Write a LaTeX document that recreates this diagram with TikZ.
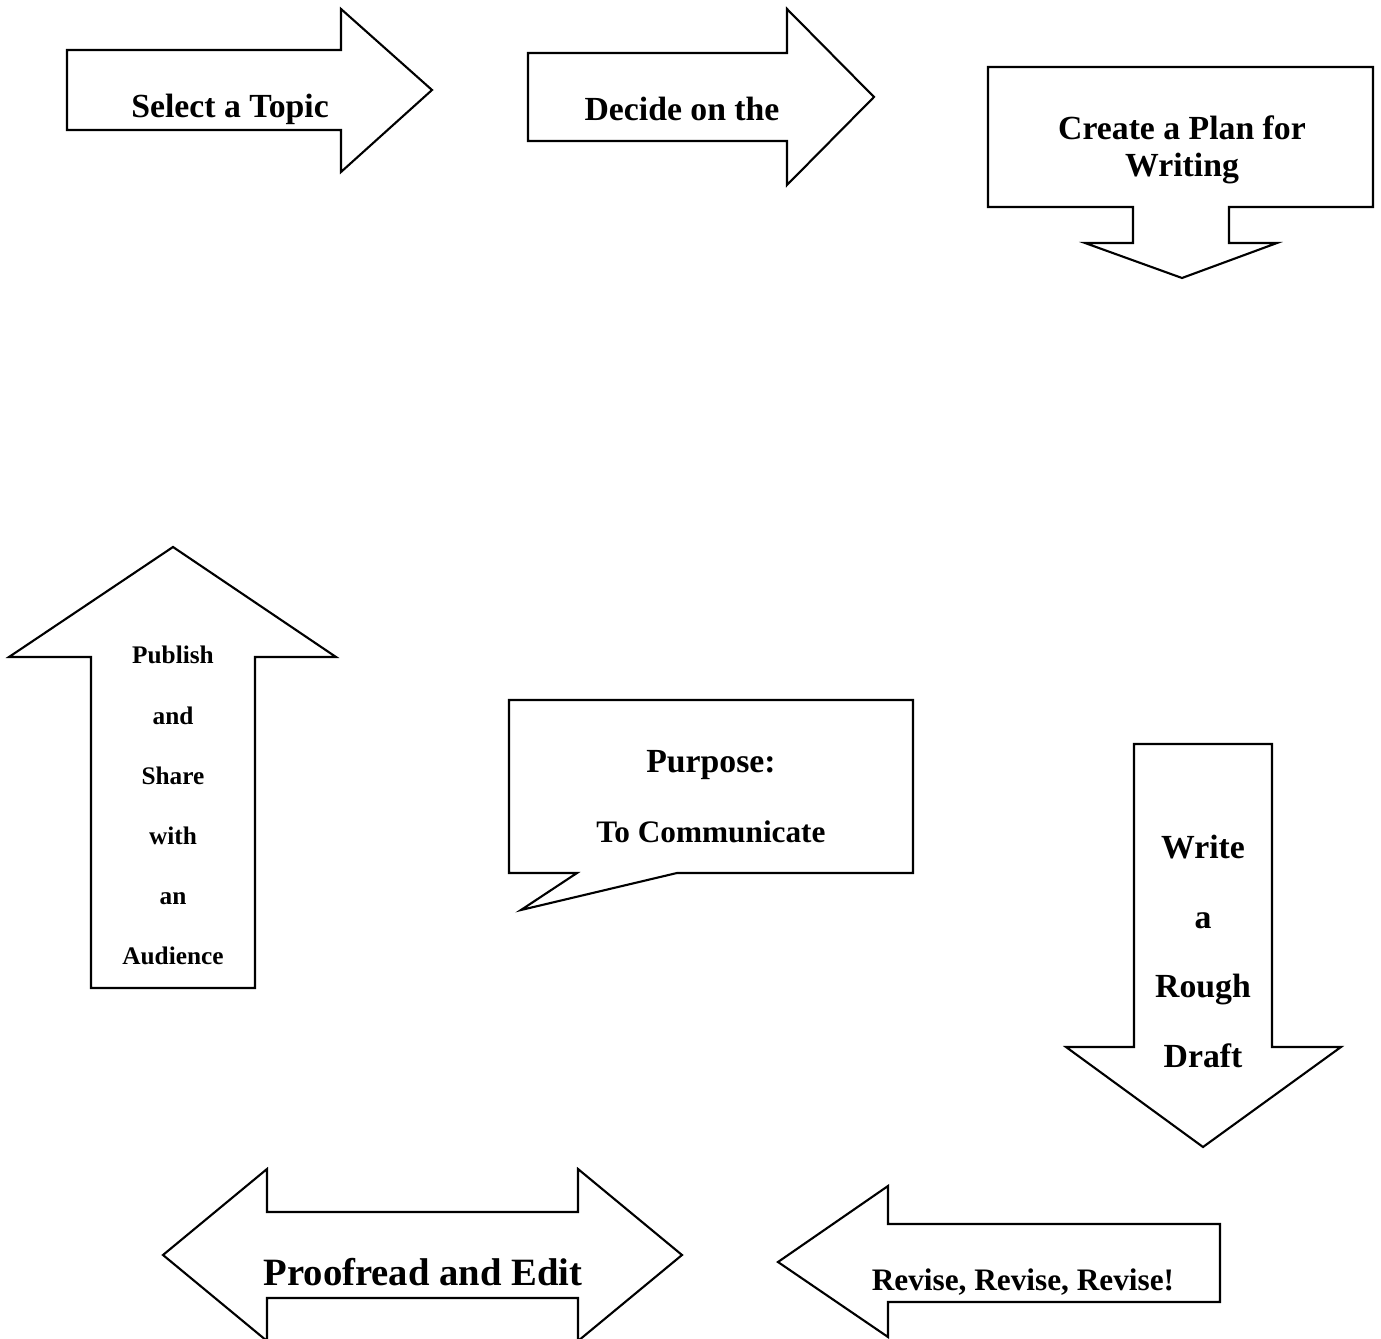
\documentclass[tikz,border=0pt]{standalone}
\usepackage{fontspec}
\setmainfont{Liberation Serif}
\usepackage{tikz}
\usetikzlibrary{calc}

\begin{document}
\begin{tikzpicture}[
	x=0.1mm, y=-0.1mm,
	outline/.style={draw, line width=0.6pt, line join=miter},
	bigText/.style={anchor=base, font=\fontsize{9.6}{11}\selectfont\bfseries},
	smallText/.style={anchor=base, font=\fontsize{7.2}{9}\selectfont\bfseries},
	midText/.style={anchor=base, font=\fontsize{8.9}{10}\selectfont\bfseries},
	hugeText/.style={anchor=base, font=\fontsize{11}{13}\selectfont\bfseries}
	]
	
	\useasboundingbox (0,0) rectangle (1381,1339);
	
	% Select a Topic
	\draw[outline] (67,50) -- (341,50) -- (341,9) -- (432,90) -- (341,172) -- (341,130) -- (67,130) -- cycle;
	\node[bigText] (topic) at (230,118) {Select a Topic};
	
	% Decide on the
	\draw[outline] (528,53) -- (787,53) -- (787,9) -- (874,97) -- (787,185) -- (787,141) -- (528,141) -- cycle;
	\node[bigText] (decide) at (682,121) {Decide on the};
	
	% Create a Plan
	\coordinate (P1) at (988,67);
	\coordinate (P2) at (1373,207);
	\draw[outline] (P1) -- (P1 -| P2) -- (P2) -- (1229,207) -- (1229,243) -- (1277,243)
		-- (1182,278) -- (1085,243) -- (1133,243) -- (1133,207) -- (P1 |- P2) -- cycle;
	\node[bigText] (plan1) at (1182,140) {Create a Plan for};
	\node[bigText] (plan2) at (1182,177) {Writing};
	
	% Publish
	\draw[outline] (173,547) -- (336,657) -- (255,657) -- (255,988) -- (91,988) -- (91,657) -- (9,657) -- cycle;
	\foreach \txt/\y [count=\i] in {Publish/664, and/725, Share/785, with/845, an/905, Audience/965}
		\node[smallText] (pub\i) at (173,\y) {\txt};
	
	% Purpose
	\coordinate (Q1) at (509,700);
	\coordinate (Q2) at (913,873);
	\draw[outline] (Q1) -- (Q1 -| Q2) -- (Q2) -- (677,873) -- (521,910) -- (577,873) -- (Q1 |- Q2) -- cycle;
	\node[bigText] (purpose1) at (711,773) {Purpose:};
	\node[midText] (purpose2) at (711,843) {To Communicate};
	
	% Write a Rough Draft
	\draw[outline] (1134,744) -- (1272,744) -- (1272,1047) -- (1341,1047) -- (1203,1147)
		-- (1066,1047) -- (1134,1047) -- cycle;
	\foreach \txt/\y [count=\i] in {Write/859, a/929, Rough/998, Draft/1068}
		\node[bigText] (draft\i) at (1203,\y) {\txt};
	
	% Revise
	\draw[outline] (778,1262) -- (888,1186) -- (888,1224) -- (1220,1224) -- (1220,1302)
		-- (888,1302) -- (888,1337) -- cycle;
	\node[midText] (revise) at (1023,1290) {Revise, Revise, Revise!};
	
	% Proofread
	\draw[outline] (163,1255) -- (267,1169) -- (267,1212) -- (578,1212) -- (578,1169) -- (682,1255)
		-- (578,1341) -- (578,1298) -- (267,1298) -- (267,1341) -- cycle;
	\node[hugeText] (proof) at (423,1285) {Proofread and Edit};
	
\end{tikzpicture}
\end{document}
